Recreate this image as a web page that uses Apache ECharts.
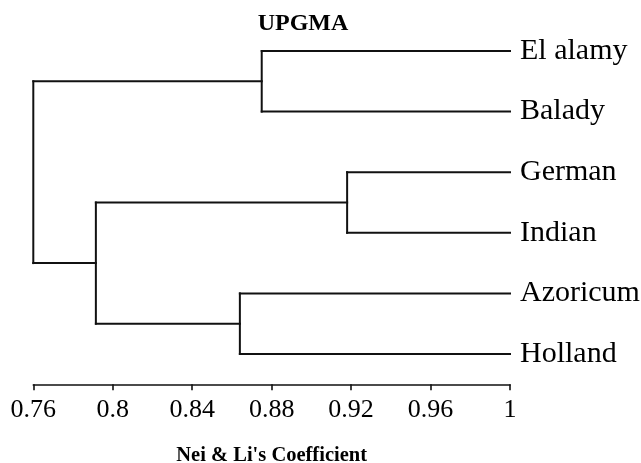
<!DOCTYPE html>
<html>
<head>
<meta charset="utf-8">
<script src="https://cdn.jsdelivr.net/npm/echarts@6/dist/echarts.min.js"></script>
<style>html,body{margin:0;padding:0;background:#fff}#c{width:641px;height:463px}</style>
</head>
<body>
<div id="c"></div>
<script>
// Leaves (top to bottom)
const leafNames = ['El alamy', 'Balady', 'German', 'Indian', 'Azoricum', 'Holland'];
const leafSimilarity = 1;
// Merges (node ids: leaves 0..5, merges 6..10)
const mergeLeft = [0, 2, 4, 7, 6];
const mergeRight = [1, 3, 5, 8, 9];
const mergeSimilarity = [0.875, 0.918, 0.864, 0.7915, 0.76];
// Axis
const axisMin = 0.76, axisMax = 1, axisStep = 0.04;

const nodeX = [], nodeY = [];
leafNames.forEach((n, i) => { nodeX[i] = leafSimilarity; nodeY[i] = i; });
mergeSimilarity.forEach((s, k) => {
  const id = leafNames.length + k;
  nodeX[id] = s;
  nodeY[id] = (nodeY[mergeLeft[k]] + nodeY[mergeRight[k]]) / 2;
});
const segments = [];
mergeSimilarity.forEach((s, k) => {
  const a = mergeLeft[k], b = mergeRight[k];
  segments.push([nodeX[a], nodeY[a], s, nodeY[a]]);
  segments.push([nodeX[b], nodeY[b], s, nodeY[b]]);
  segments.push([s, nodeY[a], s, nodeY[b]]);
});

const chart = echarts.init(document.getElementById('c'));
const serif = 'Liberation Serif, Times New Roman, serif';
chart.setOption({
  animation: false,
  backgroundColor: '#fff',
  title: {
    text: 'UPGMA', left: 298, top: 7, textAlign: 'center',
    textStyle: { fontFamily: serif, fontWeight: 'bold', fontSize: 24, color: '#000' }
  },
  grid: { left: 33.3, right: 131, top: 20.7, bottom: 78.7, containLabel: false, outerBoundsMode: 'none' },
  xAxis: {
    type: 'value', min: axisMin, max: axisMax, interval: axisStep,
    name: "Nei & Li's Coefficient", nameLocation: 'middle', nameGap: 61,
    nameTextStyle: { fontFamily: serif, fontWeight: 'bold', fontSize: 20.5, color: '#000' },
    axisLine: { show: true, onZero: false, lineStyle: { color: '#111', width: 1.6 } },
    axisTick: { show: true, length: 6, lineStyle: { color: '#111', width: 1.6 } },
    axisLabel: { fontFamily: serif, fontSize: 26, color: '#000', margin: 13,
      formatter: v => String(parseFloat(v.toFixed(2))) },
    splitLine: { show: false }
  },
  yAxis: [
    { type: 'value', min: -0.5, max: leafNames.length - 0.5, inverse: true, show: false },
    { type: 'category', data: leafNames, inverse: true, position: 'right',
      axisLine: { show: false }, axisTick: { show: false }, splitLine: { show: false },
      axisLabel: { fontFamily: serif, fontSize: 30, color: '#000', margin: 10 } }
  ],
  series: [{
    type: 'custom',
    yAxisIndex: 0,
    data: segments,
    encode: { x: [0, 2], y: [1, 3] },
    renderItem: (params, api) => {
      const p1 = api.coord([api.value(0), api.value(1)]);
      const p2 = api.coord([api.value(2), api.value(3)]);
      return { type: 'line', shape: { x1: p1[0], y1: p1[1], x2: p2[0], y2: p2[1] },
        style: { stroke: '#111', lineWidth: 2, lineCap: 'square' } };
    }
  }]
});
</script>
</body>
</html>
